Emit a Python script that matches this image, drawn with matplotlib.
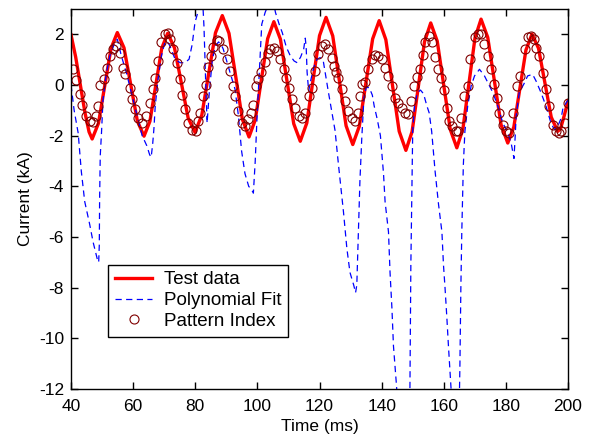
import matplotlib
matplotlib.use("Agg")
import matplotlib.pyplot as plt

plt.rcParams['font.family'] = ['Liberation Sans', 'DejaVu Sans']
plt.rcParams['axes.unicode_minus'] = False

# Test data
t_test = [40.0, 41.5, 43.0, 44.5, 45.8, 46.8,
          48.83, 50.85, 52.88, 54.9,
          57.05, 59.2, 61.35, 63.5,
          65.4, 67.3, 69.2, 71.1,
          73.3, 75.5, 77.7, 79.9,
          82.1, 84.3, 86.5, 88.7,
          90.85, 93.0, 95.15, 97.3,
          99.3, 101.3, 103.3, 105.3,
          107.4, 109.55, 111.7, 113.8,
          115.9, 117.95, 120.0, 122.1,
          124.25, 126.4, 128.55, 130.7,
          132.8, 134.95, 137.1, 139.2,
          141.35, 143.5, 145.65, 147.8,
          149.8, 151.8, 153.8, 155.8,
          157.9, 160.0, 162.1, 164.2,
          166.15, 168.1, 170.05, 172.0,
          174.15, 176.3, 178.45, 180.6,
          182.55, 184.5, 186.45, 188.4,
          190.5, 192.55, 194.6, 196.7,
          197.6, 198.8, 200.0]
i_test = [1.98, 1.1, 0.0, -1.1, -1.85, -2.13,
          -1.51, -0.03, 1.45, 2.07,
          1.47, 0.03, -1.42, -2.02,
          -1.43, 0.01, 1.45, 2.04,
          1.47, 0.09, -1.30, -1.87,
          -1.19, 0.44, 2.06, 2.74,
          2.04, 0.35, -1.35, -2.05,
          -1.38, 0.23, 1.83, 2.50,
          1.81, 0.14, -1.53, -2.22,
          -1.50, 0.23, 1.95, 2.67,
          1.94, 0.16, -1.61, -2.35,
          -1.63, 0.10, 1.82, 2.54,
          1.79, -0.02, -1.83, -2.58,
          -1.84, -0.07, 1.71, 2.45,
          1.73, -0.02, -1.76, -2.48,
          -1.74, 0.06, 1.86, 2.60,
          1.88, 0.16, -1.57, -2.29,
          -1.66, -0.14, 1.38, 2.01,
          1.45, 0.09, -1.27, -1.83,
          -1.72, -1.2, -0.63]

# Polynomial fit
t_fit = [40.0, 41.0, 42.3, 43.3, 44.4, 46.0, 47.1, 48.5, 48.9, 49.1, 49.2, 49.4,
         49.8, 50.3, 51.4, 52.5, 54.1, 54.9, 56.2, 57.8, 59.4, 60.5, 61.6, 62.9,
         64.4, 65.3, 65.8, 66.3, 66.7, 67.1, 68.0, 69.1, 70.2, 71.0, 71.8, 73.5,
         75.1, 76.7, 78.0, 79.0, 79.9, 81.0, 81.8, 82.3, 82.8, 83.3, 83.8, 84.5,
         85.5, 86.5, 87.5, 88.3, 89.0, 91.2, 92.8, 93.9, 94.9, 96.0, 97.2, 98.2,
         98.7, 99.3, 99.8, 100.4, 101.4, 102.5, 103.6, 104.5, 105.3, 105.8, 107.0,
         108.0, 109.3, 110.6, 111.8, 112.8, 113.9, 114.9, 115.4, 115.7, 116.0,
         116.5, 117.2, 118.1, 119.2, 120.2, 121.2, 122.8, 123.9, 125.0, 126.1,
         127.7, 128.8, 129.8, 131.0, 131.6, 132.0, 132.5, 133.0, 133.6, 134.3,
         135.0, 136.0, 137.0, 137.6, 138.6, 139.6, 140.6, 141.1, 142.2, 142.7,
         143.3, 143.8, 144.8, 145.3, 147.0, 148.8, 149.1, 149.4, 149.7, 150.0,
         150.6, 151.5, 152.5, 153.5, 154.5, 155.3, 156.1, 157.2, 158.3, 159.4,
         159.9, 160.4, 161.0, 161.5, 162.3, 162.6, 163.8, 165.0, 165.2, 165.5,
         165.8, 166.3, 166.8, 167.7, 168.8, 169.9, 171.5, 173.1, 174.2, 175.8,
         177.4, 179.0, 180.5, 181.7, 182.6, 183.0, 183.3, 184.3, 186.0, 187.0,
         188.6, 189.7, 191.3, 192.9, 194.5, 195.6, 196.7, 197.8, 198.3, 199.4,
         200.0]
i_fit = [0.0, -1.0, -1.9, -3.4, -4.6, -5.5, -6.2, -6.9, -7.0, -6.3, -4.5, -2.8,
         -1.9, -0.57, 0.49, 1.15, 1.68, 1.81, 1.15, 0.49, -0.30, -0.83, -1.36, -2.0,
         -2.4, -2.75, -2.85, -2.3, -1.7, -0.83, 0.22, 1.15, 1.68, 1.72, 1.55, 1.02,
         0.88, 0.88, 1.02, 1.6, 2.47, 2.94, 3.3, 3.5, 2.3, 0.3, -1.5, -0.3,
         1.0, 1.55, 1.7, 1.6, 1.42, 0.49, -0.17, -1.23, -2.6, -3.5, -4.0, -4.15,
         -4.27, -3.0, -1.5, 0.0, 2.4, 2.87, 3.2, 3.4, 3.2, 2.87, 2.4,
         2.07, 1.5, 1.15, 0.95, 0.88, 1.1, 1.42, 1.85, 1.5, 0.5,
         -0.24, 0.2, 0.69, 1.02, 1.08, 0.95, -0.24, -1.03, -1.8, -3.15,
         -5.0, -6.45, -7.4, -7.9, -8.2, -7.9, -5.8, -3.8, -2.1, -0.5,
         -0.1, -0.1, -0.4, -0.83, -1.36, -2.0, -3.5, -4.6, -5.8, -7.4,
         -8.8, -10.3, -11.9, -13.0, -15.0, -13.0, -12.0, -7.1, -4.5, -1.8,
         -0.8, -0.3, -0.2, -0.35, -0.8, -1.1, -1.83, -3.4, -4.7, -5.8,
         -7.1, -8.0, -9.2, -10.3, -11.9, -12.5, -14.5, -12.5, -11.0, -8.0,
         -5.8, -3.15, -1.83, -0.83, -0.04, 0.36, 0.62, 0.36, 0.09, -0.3,
         -0.83, -1.5, -1.85, -2.3, -2.9, -2.0, -1.23, -0.3, 0.09, 0.36,
         0.42, 0.16, -0.3, -0.83, -1.5, -1.76, -1.63, -1.3, -0.96, -0.7,
         -0.6]

# Pattern index points
t_idx = [40.6, 41.7, 42.8, 43.6, 44.9, 46.0, 47.1, 48.1, 48.7, 49.4, 50.5, 51.7,
         52.5, 53.5, 54.6, 55.7, 56.7, 57.5, 58.9, 59.6, 60.5, 61.6, 62.9, 64.2,
         65.3, 66.4, 67.1, 68.0, 68.9, 70.2, 71.2, 71.9, 72.9, 74.0, 75.1, 75.8,
         76.7, 77.6, 78.9, 80.2, 81.0, 81.6, 82.6, 83.4, 84.2, 85.0, 85.8, 86.9,
         87.6, 89.0, 90.1, 91.2, 92.2, 92.8, 93.6, 94.9, 96.0, 97.1, 98.0, 98.7,
         99.5, 100.3, 101.2, 102.3, 103.3, 104.2, 105.3, 106.3, 107.4, 108.5,
         109.2, 110.1, 111.2, 112.2, 113.3, 114.4, 115.4, 116.5, 117.5, 118.6,
         119.6, 120.7, 121.8, 122.8, 123.9, 124.5, 125.3, 126.1, 127.2, 128.2,
         129.3, 130.4, 131.4, 132.5, 133.0, 133.8, 134.7, 135.7, 136.8, 137.9,
         138.9, 140.0, 141.1, 142.2, 143.2, 144.3, 145.4, 146.5, 147.5, 148.4,
         149.4, 150.4, 151.3, 152.3, 153.2, 154.0, 155.3, 156.3, 157.3, 158.2,
         159.0, 160.1, 160.9, 161.6, 162.8, 163.9, 164.6, 165.6, 166.6, 167.7,
         168.5, 169.9, 171.0, 172.0, 173.1, 174.2, 175.2, 176.3, 177.1, 177.9,
         179.0, 180.1, 180.9, 182.2, 183.5, 184.6, 186.0, 187.0, 188.1, 189.2,
         189.7, 190.8, 191.9, 193.0, 194.0, 195.1, 196.2, 197.0, 197.8, 198.9,
         200.0]
i_idx = [0.62, 0.20, -0.37, -0.80, -1.23, -1.43, -1.47, -1.23, -0.83, -0.01, 0.25, 0.69,
         1.15, 1.42, 1.55, 1.28, 0.69, 0.42, -0.11, -0.57, -0.96, -1.30, -1.50, -1.23,
         -0.70, -0.17, 0.29, 0.95, 1.68, 2.00, 2.07, 1.81, 1.42, 0.88, 0.22, -0.41,
         -0.96, -1.50, -1.78, -1.83, -1.43, -1.10, -0.45, 0.00, 0.70, 1.15, 1.50, 1.78,
         1.75, 1.42, 1.02, 0.56, -0.04, -0.44, -1.03, -1.50, -1.63, -1.36, -1.10, -0.77,
         -0.04, 0.25, 0.50, 0.90, 1.25, 1.42, 1.48, 1.35, 1.02, 0.62,
         0.29, -0.11, -0.57, -0.90, -1.23, -1.30, -1.10, -0.45, -0.10, 0.56,
         1.21, 1.55, 1.61, 1.42, 1.08, 0.75, 0.50, 0.29, -0.17, -0.63,
         -1.03, -1.30, -1.43, -1.10, -0.45, 0.03, 0.12, 0.62, 1.02, 1.18,
         1.15, 1.02, 0.69, 0.36, -0.04, -0.50, -0.70, -0.90, -1.10, -1.13,
         -0.63, -0.04, 0.30, 0.62, 1.20, 1.70, 1.94, 1.68, 1.10, 0.65,
         0.29, -0.20, -0.90, -1.43, -1.63, -1.83, -1.83, -1.30, -0.44, -0.04,
         1.02, 1.88, 2.01, 2.01, 1.61, 1.15, 0.62, 0.03, -0.50, -1.10,
         -1.56, -1.83, -1.89, -1.10, -0.04, 0.36, 1.42, 1.88, 1.94, 1.81,
         1.48, 1.15, 0.49, -0.17, -0.83, -1.56, -1.83, -1.90, -1.83, -1.50,
         -0.70]

fig = plt.figure(figsize=(5.92, 4.40), dpi=100)
ax = fig.add_axes([0.12, 0.116, 0.8395, 0.8635])

ax.plot(t_test, i_test, color='red', lw=2.4, solid_joinstyle='round', label='Test data')
ax.plot(t_fit, i_fit, color='blue', lw=0.9, dashes=(5, 3.5), label='Polynomial Fit')
ax.plot(t_idx, i_idx, 'o', color='#800000', mfc='none', ms=6.5, mew=0.8,
        label='Pattern Index')

ax.set_xlim(40, 200)
ax.set_ylim(-12, 3)
ax.set_xticks(range(40, 201, 20))
ax.set_yticks(range(-12, 3, 2))
ax.tick_params(direction='in', top=True, right=True, length=5, width=1,
               labelsize=12.5)
ax.tick_params(axis='x', pad=7)
ax.tick_params(axis='y', pad=5)
for s in ax.spines.values():
    s.set_linewidth(1)

ax.set_xlabel('Time (ms)', fontsize=12.5, labelpad=4)
ax.set_ylabel('Current (kA)', fontsize=12.5, labelpad=4)

leg = ax.legend(loc='lower left', bbox_to_anchor=(0.075, 0.138), fontsize=13.5,
                numpoints=1, handlelength=2.0, handletextpad=0.6,
                labelspacing=0.2, borderpad=0.35, borderaxespad=0,
                fancybox=False, framealpha=1, edgecolor='black')
leg.get_frame().set_linewidth(1)

fig.savefig('out.png', dpi=100)
